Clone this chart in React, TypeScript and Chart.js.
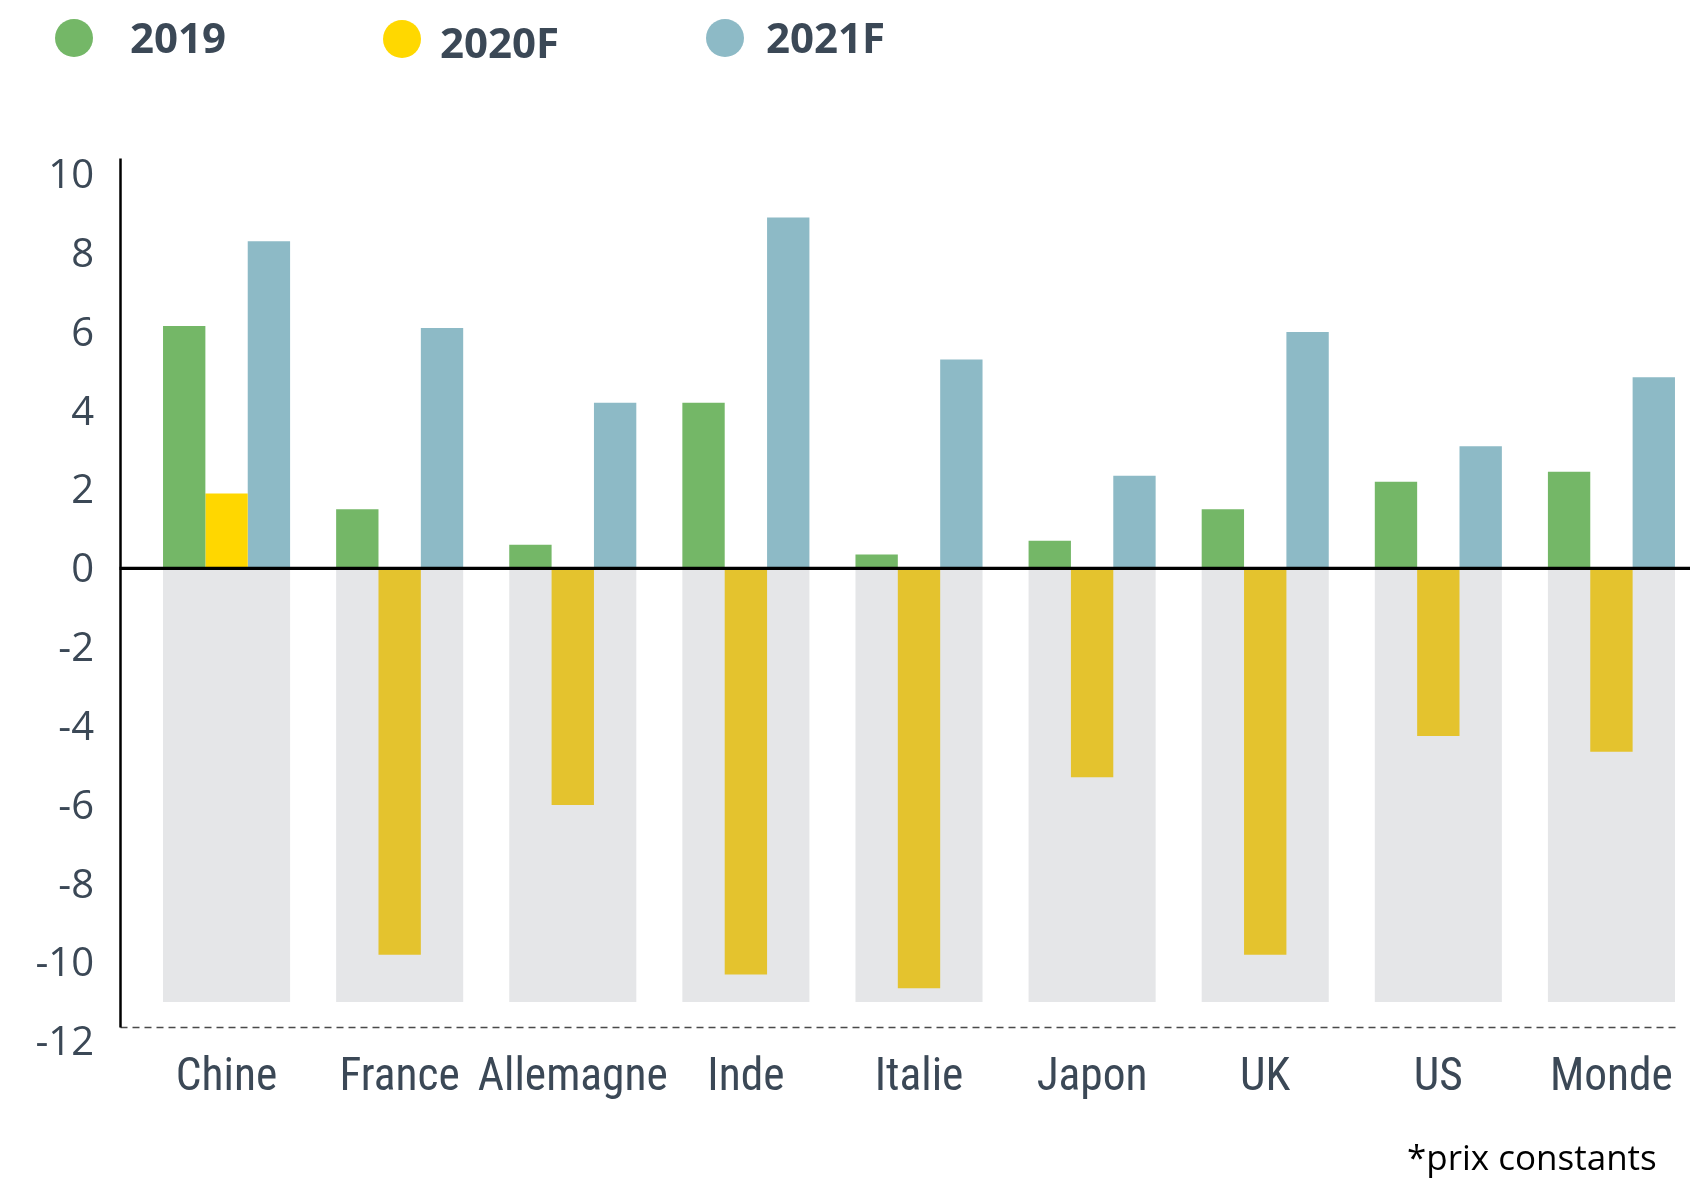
import React, { useEffect, useRef } from "react";
import { Chart, registerables } from "chart.js";

Chart.register(...registerables);

// ---- data ----
const CATEGORIES = ["Chine", "France", "Allemagne", "Inde", "Italie", "Japon", "UK", "US", "Monde"];
const SERIES_LABELS = ["2019", "2020F", "2021F"];
const VALUES_2019 = [6.15, 1.5, 0.6, 4.2, 0.35, 0.7, 1.5, 2.2, 2.45];
const VALUES_2020F = [1.9, -9.8, -6.0, -10.3, -10.65, -5.3, -9.8, -4.25, -4.65];
const VALUES_2021F = [8.3, 6.1, 4.2, 8.9, 5.3, 2.35, 6.0, 3.1, 4.85];
const BACKGROUND_BAND = [-11, -11, -11, -11, -11, -11, -11, -11, -11];
const Y_TICKS = [10, 8, 6, 4, 2, 0, -2, -4, -6, -8, -10, -12];
const Y_MIN = -12;
const Y_MAX = 10.4;
const AXIS_FLOOR = -11.65;
const NOTE = "*prix constants";

// ---- styles ----
const GREEN = "#74b767";
const YELLOW_POS = "#ffd700";
const YELLOW_NEG = "#e4c32e";
const BLUE = "#8dbac6";
const GRAY = "#e5e6e8";
const TEXT = "#3b4856";
const LEGEND_COLORS = [GREEN, "#ffd800", BLUE];

// pick a narrow font for the category labels if one is available
function pickLabelFont(): { family: string; weight: string; size: number } {
  const c = document.createElement("canvas").getContext("2d") as CanvasRenderingContext2D;
  const probe = "Allemagne";
  const w = (f: string) => {
    c.font = f;
    return c.measureText(probe).width;
  };
  const target = 190;
  const mono = w("40px monospace");
  const named = [
    "'Liberation Sans Narrow'",
    "'Arial Narrow'",
    "'Roboto Condensed'",
    "'Noto Sans Condensed'",
    "'Open Sans Condensed'",
    "'Noto Sans SemiCondensed'",
  ];
  for (const fam of named) {
    const wf = w(`40px ${fam}, monospace`);
    if (Math.abs(wf - mono) > 0.5 && wf < 175) {
      return { family: fam + ", 'Open Sans', sans-serif", weight: "400", size: Math.min(46, (40 * target) / wf) };
    }
  }
  for (const fam of ["'Open Sans'", "'Noto Sans'"]) {
    const normal = w(`40px ${fam}`);
    const cond = w(`condensed 40px ${fam}`);
    if (cond < normal * 0.95) {
      return { family: fam + ", sans-serif", weight: "condensed 400", size: Math.min(46, (40 * target) / cond) };
    }
  }
  const os = w("40px 'Open Sans'");
  return { family: "'Open Sans', sans-serif", weight: "400", size: (40 * target) / os };
}

const framePlugin = {
  id: "frame",
  afterDatasetsDraw(chart: any) {
    const { ctx, chartArea, scales } = chart;
    const y = scales.y;
    const axisX = chartArea.left - 19.5;
    const yZero = y.getPixelForValue(0);
    const yFloor = y.getPixelForValue(AXIS_FLOOR);
    ctx.save();
    ctx.strokeStyle = "#4a4a4a";
    ctx.lineWidth = 1.5;
    ctx.setLineDash([7, 5]);
    ctx.beginPath();
    ctx.moveTo(axisX, yFloor);
    ctx.lineTo(chartArea.right - 18, yFloor);
    ctx.stroke();
    ctx.setLineDash([]);
    ctx.strokeStyle = "#000";
    ctx.lineWidth = 2.5;
    ctx.beginPath();
    ctx.moveTo(axisX, chartArea.top);
    ctx.lineTo(axisX, yFloor);
    ctx.stroke();
    ctx.lineWidth = 3.3;
    ctx.beginPath();
    ctx.moveTo(axisX - 1, yZero);
    ctx.lineTo(chartArea.right - 8, yZero);
    ctx.stroke();
    ctx.restore();
  },
};

export default function App() {
  const ref = useRef<HTMLCanvasElement>(null);

  useEffect(() => {
    const lf = pickLabelFont();
    const xPad = Math.max(0, 1079 - 1041.4 - 0.6 * lf.size);
    const chart = new Chart(ref.current as HTMLCanvasElement, {
      type: "bar",
      data: {
        labels: CATEGORIES,
        datasets: [
          {
            label: SERIES_LABELS[0],
            data: VALUES_2019,
            backgroundColor: GREEN,
            order: 1,
            categoryPercentage: 0.734,
            barPercentage: 1,
          },
          {
            label: SERIES_LABELS[1],
            data: VALUES_2020F,
            backgroundColor: (c: any) => (c.raw >= 0 ? YELLOW_POS : YELLOW_NEG),
            order: 1,
            categoryPercentage: 0.734,
            barPercentage: 1,
          },
          {
            label: SERIES_LABELS[2],
            data: VALUES_2021F,
            backgroundColor: BLUE,
            order: 1,
            categoryPercentage: 0.734,
            barPercentage: 1,
          },
          {
            label: "band",
            data: BACKGROUND_BAND,
            backgroundColor: GRAY,
            grouped: false,
            order: 5,
            categoryPercentage: 0.734,
            barPercentage: 1,
          },
        ],
      } as any,
      options: {
        animation: false,
        responsive: false,
        devicePixelRatio: 1,
        events: [],
        layout: { padding: { top: 158.5, left: 0, right: 4, bottom: 39.6 } },
        plugins: {
          legend: { display: false },
          tooltip: { enabled: false },
        },
        scales: {
          x: {
            type: "category",
            offset: true,
            grid: { display: false, drawTicks: false },
            border: { display: false },
            ticks: {
              color: TEXT,
              padding: xPad,
              autoSkip: false,
              maxRotation: 0,
              font: { family: lf.family, size: lf.size, weight: lf.weight },
            },
            afterFit: (s: any) => {
              s.height = 100;
            },
          },
          y: {
            type: "linear",
            min: Y_MIN,
            max: Y_MAX,
            grid: { display: false, drawTicks: false },
            border: { display: false },
            afterBuildTicks: (s: any) => {
              s.ticks = Y_TICKS.map((v) => ({ value: v }));
            },
            afterFit: (s: any) => {
              s.width = 140;
            },
            ticks: {
              color: TEXT,
              padding: 46,
              labelOffset: 2.5,
              autoSkip: false,
              font: { family: "'Open Sans', sans-serif", size: 40 },
            },
          },
        },
      } as any,
      plugins: [framePlugin],
    });
    return () => chart.destroy();
  }, []);

  const legendPos = [
    { cx: 74, cy: 38, tx: 130, tcy: 38 },
    { cx: 402, cy: 39, tx: 440, tcy: 43 },
    { cx: 725, cy: 38, tx: 766, tcy: 38 },
  ];

  return (
    <div
      style={{
        position: "fixed",
        left: 0,
        top: 0,
        width: 1702,
        height: 1181,
        background: "#fff",
        overflow: "hidden",
      }}
    >
      <canvas ref={ref} width={1702} height={1181} style={{ position: "absolute", left: 0, top: 0 }} />
      {SERIES_LABELS.map((lab, i) => (
        <React.Fragment key={lab}>
          <div
            style={{
              position: "absolute",
              left: legendPos[i].cx - 19,
              top: legendPos[i].cy - 19,
              width: 38,
              height: 38,
              borderRadius: "50%",
              background: LEGEND_COLORS[i],
            }}
          />
          <div
            style={{
              position: "absolute",
              left: legendPos[i].tx,
              top: legendPos[i].tcy - 22.3,
              fontFamily: "'Open Sans', sans-serif",
              fontWeight: 700,
              fontSize: 42,
              lineHeight: "42px",
              color: TEXT,
              whiteSpace: "nowrap",
            }}
          >
            {lab}
          </div>
        </React.Fragment>
      ))}
      <div
        style={{
          position: "absolute",
          left: 1407,
          top: 1139,
          fontFamily: "'Open Sans', sans-serif",
          fontSize: 35,
          lineHeight: "35px",
          color: "#000",
          whiteSpace: "nowrap",
        }}
      >
        {NOTE}
      </div>
    </div>
  );
}
